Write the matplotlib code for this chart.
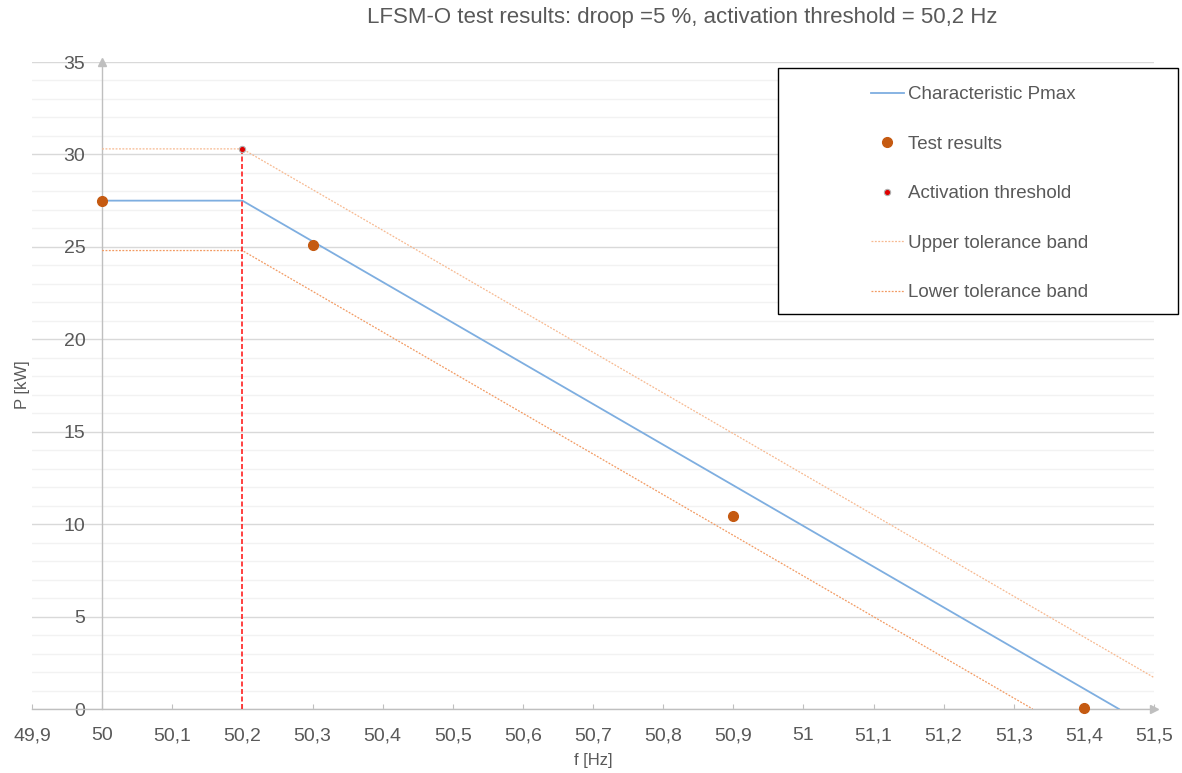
import matplotlib
matplotlib.use("Agg")
import matplotlib.pyplot as plt
from matplotlib.ticker import MultipleLocator, FuncFormatter
from matplotlib.patches import Rectangle
import matplotlib.transforms as mtransforms

plt.rcParams['font.family'] = ['Liberation Sans', 'DejaVu Sans']

# ---- data ----
char_f = [50.0, 50.2, 51.45]
char_p = [27.5, 27.5, 0.0]

test_f = [50.0, 50.3, 50.9, 51.4]
test_p = [27.5, 25.1, 10.45, 0.05]

act_f = [50.2]
act_p = [30.3]

upper_f = [50.0, 50.2, 51.5]
upper_p = [30.3, 30.3, 1.7]

lower_f = [50.0, 50.2, 51.327]
lower_p = [24.8, 24.8, 0.0]

title = "LFSM-O test results: droop =5 %, activation threshold = 50,2 Hz"
TXT = '#595959'

W, H = 1182, 773
fig = plt.figure(figsize=(W/100, H/100), dpi=100)
ax = fig.add_axes([32/W, 1-709/H, (1154-32)/W, (709-62)/H])

ax.set_xlim(49.9, 51.5)
ax.set_ylim(0, 35)

# grid
ax.yaxis.set_major_locator(MultipleLocator(5))
ax.yaxis.set_minor_locator(MultipleLocator(1))
ax.xaxis.set_major_locator(MultipleLocator(0.1))
ax.grid(axis='y', which='major', color='#d9d9d9', linewidth=1.0, zorder=0)
ax.grid(axis='y', which='minor', color='#f2f2f2', linewidth=1.0, zorder=0)
ax.set_axisbelow(True)

for s in ['top', 'right']:
    ax.spines[s].set_visible(False)
ax.spines['left'].set_position(('data', 50))
ax.spines['left'].set_color('#bfbfbf')
ax.spines['bottom'].set_color('#bfbfbf')
ax.spines['left'].set_linewidth(1.0)
ax.spines['bottom'].set_linewidth(1.0)

def ffmt(v, pos):
    s = f"{v:.1f}".replace('.', ',')
    if s.endswith(',0'):
        s = s[:-2]
    return s
ax.xaxis.set_major_formatter(FuncFormatter(ffmt))

ax.tick_params(axis='x', which='major', direction='in', length=3.6, color='#bfbfbf',
               labelsize=14, labelcolor=TXT, pad=13)
ax.tick_params(axis='y', which='major', length=0, labelsize=14, labelcolor=TXT, pad=12)
ax.tick_params(axis='y', which='minor', length=0)

# axis arrows
ax.plot([1.0], [0.0], marker='>', color='#bfbfbf', markersize=6, clip_on=False,
        transform=ax.transAxes, zorder=5)
trans = mtransforms.blended_transform_factory(ax.transData, ax.transAxes)
ax.plot([50.0], [1.0], marker='^', color='#bfbfbf', markersize=6, clip_on=False,
        transform=trans, zorder=5)

# series
ax.plot(char_f, char_p, color='#7eaee0', linewidth=1.3, label='Characteristic Pmax', zorder=3)
ax.plot(test_f, test_p, linestyle='none', marker='o', markersize=7, color='#c55a11',
        label='Test results', zorder=6, clip_on=False)
ax.plot([act_f[0], act_f[0]], [0, act_p[0]], color='#ff2020', linewidth=1.2,
        linestyle=(0, (3, 1.5)), zorder=4)
ax.plot(act_f, act_p, linestyle='none', marker='o', markersize=4.5, markerfacecolor='#e00000',
        markeredgecolor='#b0b0b0', markeredgewidth=0.8, label='Activation threshold', zorder=7)
ax.plot(upper_f, upper_p, color='#f7b990', linewidth=0.9, linestyle=(0, (1.5, 1.2)),
        label='Upper tolerance band', zorder=3)
ax.plot(lower_f, lower_p, color='#f29a62', linewidth=0.9, linestyle=(0, (1.5, 1.2)),
        label='Lower tolerance band', zorder=3)

# legend box
rect = Rectangle((778/W, 1-314/H), (1178-778)/W, (314-68)/H, transform=fig.transFigure,
                 facecolor='white', edgecolor='black', linewidth=1.0, zorder=10,
                 clip_on=False)
ax.add_patch(rect)
leg = ax.legend(loc='upper left', bbox_to_anchor=(871/W, 1-86/H),
                bbox_transform=fig.transFigure, frameon=False, fontsize=13.5,
                labelcolor=TXT, handlelength=1.75, handletextpad=0.25,
                labelspacing=1.73, borderpad=0, borderaxespad=0)
leg.set_zorder(11)

fig.text(682/W, 1-18/H, title, ha='center', va='center', fontsize=16, color=TXT)
fig.text(22/W, 1-385/H, 'P [kW]', ha='center', va='center', rotation=90, fontsize=12, color=TXT)
fig.text(593/W, 1-760/H, 'f [Hz]', ha='center', va='center', fontsize=12, color=TXT)

fig.savefig('out.png', dpi=100)
